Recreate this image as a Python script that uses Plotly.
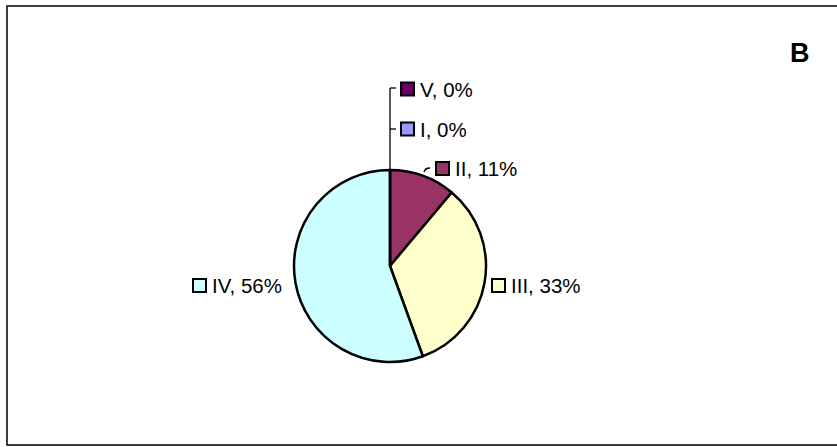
import plotly.graph_objects as go

# Category counts per stage
stages = ["I", "II", "III", "IV", "V"]
counts = [0, 1, 3, 5, 0]
slice_colors = ["#9999FF", "#993366", "#FFFFCC", "#CCFFFF", "#660066"]
panel_letter = "B"

W, H = 837, 447
FONT = "Arial, Liberation Sans, sans-serif"


def px(x):
    return x / W


def py(y):
    return 1 - y / H


total = sum(counts)
pcts = [round(100 * c / total) for c in counts]

# pie geometry in pixels
cx, cy, r = 390, 266, 96

fig = go.Figure(
    go.Pie(
        labels=stages,
        values=counts,
        sort=False,
        direction="clockwise",
        rotation=0,
        textinfo="none",
        hoverinfo="label+percent",
        marker=dict(colors=slice_colors, line=dict(color="black", width=2.5)),
        domain=dict(x=[px(cx - r), px(cx + r)], y=[py(cy + r), py(cy - r)]),
        showlegend=False,
    )
)

# label anchor positions (pixel space): key square left edge, vertical centre
label_pos = {
    "V": (401, 89),
    "I": (401, 129),
    "II": (436, 168.5),
    "III": (492, 285.5),
    "IV": (193, 285.5),
}

shapes = []
annotations = []
sq = 13
for name, pct, col in zip(stages, pcts, slice_colors):
    x0, yc = label_pos[name]
    shapes.append(dict(
        type="rect", xref="paper", yref="paper",
        x0=px(x0), x1=px(x0 + sq), y0=py(yc + sq / 2), y1=py(yc - sq / 2),
        fillcolor=col, line=dict(color="black", width=2),
    ))
    annotations.append(dict(
        x=px(x0 + sq + 4), y=py(yc), xref="paper", yref="paper",
        xanchor="left", yanchor="middle", showarrow=False,
        text=f"{name}, {pct}%", font=dict(family=FONT, size=20.5, color="black"),
    ))

# leader lines for the small slices at the top
line_style = dict(color="black", width=1.3)
leaders = [
    ((cx, cy - r), (cx, 88)),
    ((cx, 88), (396, 88)),
    ((cx, 129), (396, 129)),
]
for (xa, ya), (xb, yb) in leaders:
    shapes.append(dict(type="line", xref="paper", yref="paper",
                       x0=px(xa), y0=py(ya), x1=px(xb), y1=py(yb), line=line_style))
shapes.append(dict(type="path", xref="paper", yref="paper",
                   path=f"M {px(424)},{py(172)} Q {px(425)},{py(168)} {px(430)},{py(168)}",
                   line=line_style))

# chart frame
shapes.append(dict(type="rect", xref="paper", yref="paper",
                   x0=px(7), x1=px(W + 10), y0=py(445), y1=py(6),
                   line=dict(color="black", width=1.5), fillcolor="rgba(0,0,0,0)"))

annotations.append(dict(
    x=px(799.5), y=py(52.5), xref="paper", yref="paper",
    xanchor="center", yanchor="middle", showarrow=False,
    text=f"<b>{panel_letter}</b>", font=dict(family=FONT, size=27, color="black"),
))

fig.update_layout(
    width=W, height=H,
    margin=dict(l=0, r=0, t=0, b=0),
    paper_bgcolor="white", plot_bgcolor="white",
    shapes=shapes, annotations=annotations,
)

fig.write_html("out.html")
